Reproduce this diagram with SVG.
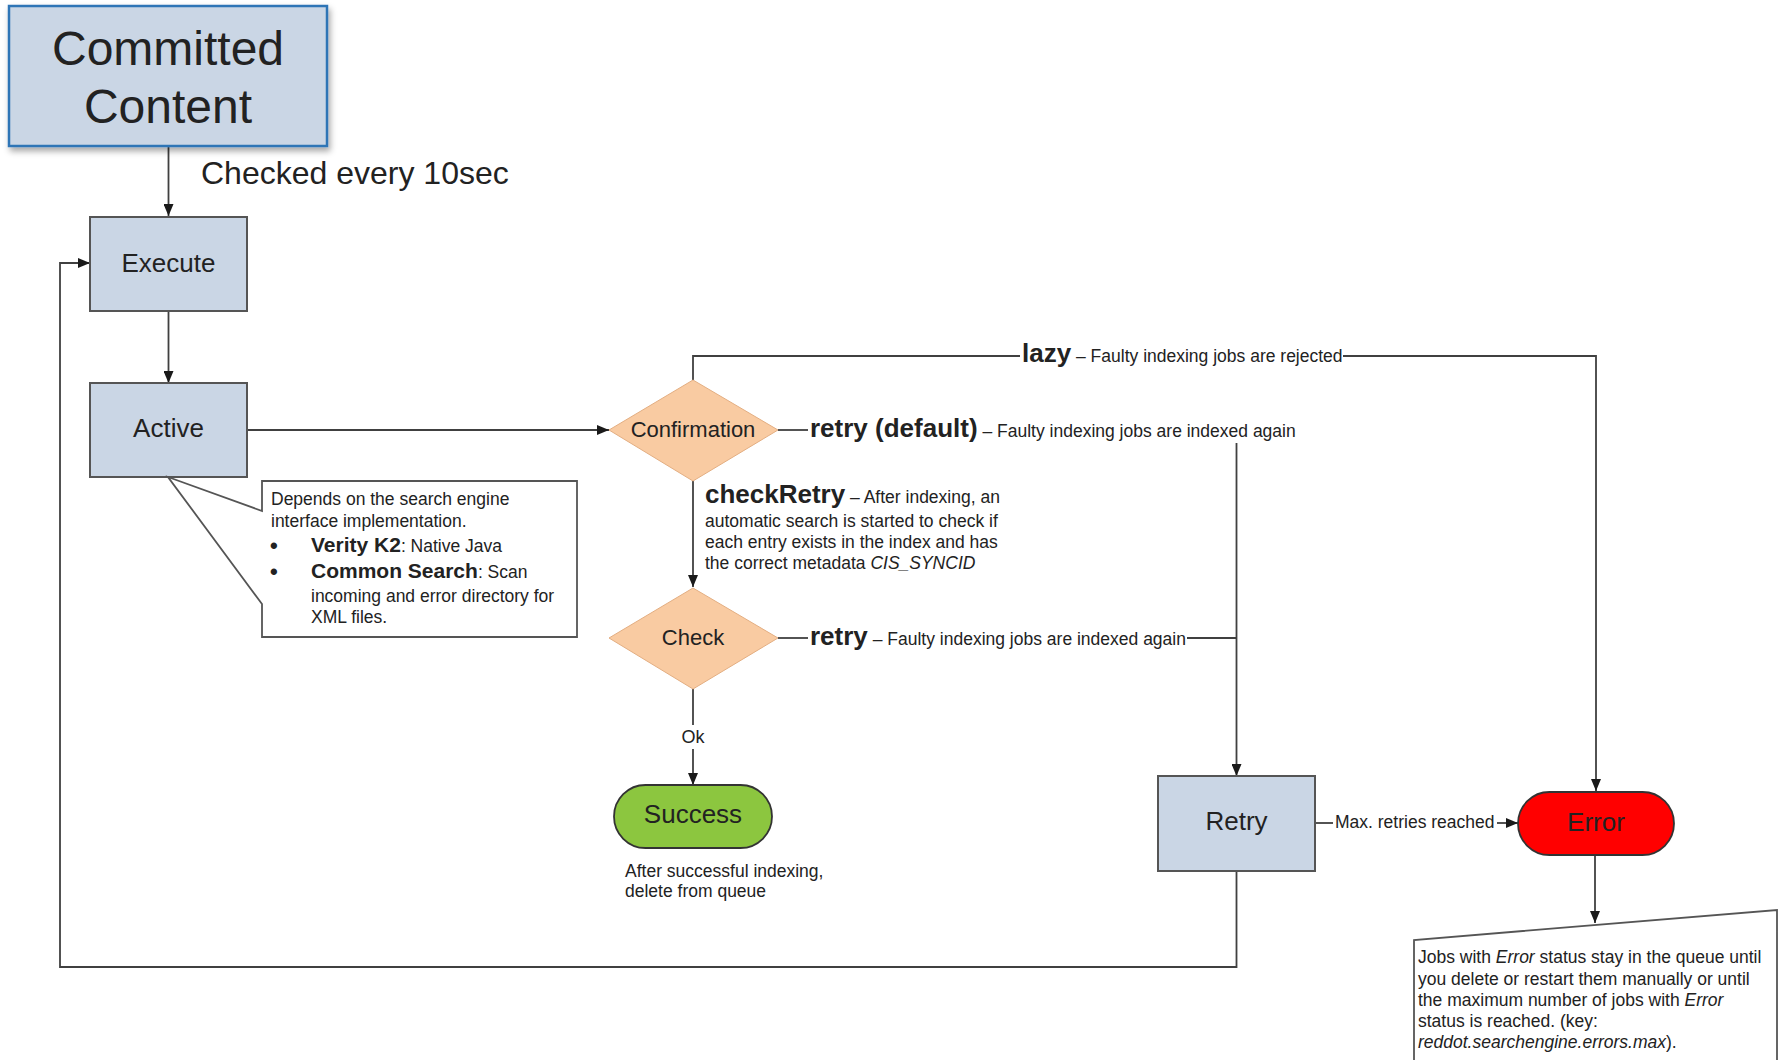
<svg xmlns="http://www.w3.org/2000/svg" width="1785" height="1060" viewBox="0 0 1785 1060">
<defs>
<marker id="ah" markerUnits="userSpaceOnUse" markerWidth="12" markerHeight="10" refX="12" refY="5" orient="auto">
<path d="M0,0 L12,5 L0,10 z" fill="#1a1a1a"/>
</marker>
<filter id="sh" x="-10%" y="-10%" width="125%" height="130%">
<feDropShadow dx="2" dy="4" stdDeviation="3" flood-color="#000" flood-opacity="0.35"/>
</filter>
<style>
.t{font-family:"Liberation Sans",Arial,sans-serif;fill:#222}
.box{fill:#cad6e5;stroke:#555;stroke-width:2}
.dia{fill:#f9cba2;stroke:#e3ae82;stroke-width:1}
.ln{fill:none;stroke:#404040;stroke-width:1.8}
.ar{fill:none;stroke:#404040;stroke-width:1.8;marker-end:url(#ah)}
.note{fill:#fff;stroke:#555;stroke-width:1.8}
.s{font-size:17.5px}
.b{font-weight:bold;font-size:26px}
.n{font-size:26px}
.bul{font-size:22px;font-weight:bold}
</style>
</defs>
<rect width="1785" height="1060" fill="#fff"/>

<g id="connectors">
<path class="ar" d="M168.5,146 V216"/>
<path class="ar" d="M168.5,311 V383"/>
<path class="ar" d="M248,430 H609"/>
<path class="ar" d="M693,481 V587"/>
<path class="ln" d="M693,689 V725"/>
<path class="ar" d="M693,749 V785"/>
<path class="ln" d="M693,380 V356 H1020"/>
<path class="ar" d="M1343,356 H1596 V791"/>
<path class="ln" d="M778,430 H808"/>
<path class="ar" d="M1236.5,443 V776"/>
<path class="ln" d="M778,638 H808"/>
<path class="ln" d="M1187,638 H1236.5"/>
<path class="ln" d="M1315,823 H1333"/>
<path class="ar" d="M1497,823 H1518"/>
<path class="ar" d="M1595,855 V923"/>
<path class="ar" d="M1236.5,871 V967 H60 V263 H90"/>
</g>

<g id="committed">
<rect x="9" y="6" width="318" height="140" fill="#cad6e5" stroke="#2e75b6" stroke-width="2.5" filter="url(#sh)"/>
<text class="t" x="168" y="65" font-size="48" text-anchor="middle" fill="#111">Committed</text>
<text class="t" x="168" y="123" font-size="48" text-anchor="middle" fill="#111">Content</text>
</g>
<text class="t" x="201" y="184" font-size="32" fill="#111">Checked every 10sec</text>

<g id="execute">
<rect class="box" x="90" y="217" width="157" height="94"/>
<text class="t n" x="168.5" y="272" text-anchor="middle">Execute</text>
</g>

<g id="active">
<rect class="box" x="90" y="383" width="157" height="94"/>
<text class="t n" x="168.5" y="437" text-anchor="middle">Active</text>
</g>

<g id="active-note">
<path class="note" d="M262,481 H577 V637 H262 V604 L168,477 L262,511 Z"/>
<text class="t s" x="271" y="505">Depends on the search engine</text>
<text class="t s" x="271" y="527">interface implementation.</text>
<text class="t bul" x="270" y="553">•</text>
<text class="t s" x="311" y="552"><tspan font-weight="bold" font-size="21">Verity K2</tspan>: Native Java</text>
<text class="t bul" x="270" y="579">•</text>
<text class="t s" x="311" y="578"><tspan font-weight="bold" font-size="21">Common Search</tspan>: Scan</text>
<text class="t s" x="311" y="602">incoming and error directory for</text>
<text class="t s" x="311" y="623">XML files.</text>
</g>

<g id="confirmation">
<polygon class="dia" points="693,380 778,430 693,481 609,430"/>
<text class="t" x="693" y="437" font-size="22" text-anchor="middle">Confirmation</text>
</g>

<g id="lazy-label">
<text class="t" x="1022" y="362"><tspan class="b">lazy</tspan><tspan class="s"> – Faulty indexing jobs are rejected</tspan></text>
</g>
<g id="retry-default-label">
<text class="t" x="810" y="437"><tspan class="b">retry (default)</tspan><tspan class="s"> – Faulty indexing jobs are indexed again</tspan></text>
</g>
<g id="checkretry-label">
<text class="t" x="705" y="503"><tspan class="b">checkRetry</tspan><tspan class="s"> – After indexing, an</tspan></text>
<text class="t s" x="705" y="527">automatic search is started to check if</text>
<text class="t s" x="705" y="548">each entry exists in the index and has</text>
<text class="t s" x="705" y="569">the correct metadata <tspan font-style="italic">CIS_SYNCID</tspan></text>
</g>

<g id="check">
<polygon class="dia" points="693,588 778,638 693,689 609,638"/>
<text class="t" x="693" y="645" font-size="22" text-anchor="middle">Check</text>
</g>
<g id="retry-label">
<text class="t" x="810" y="645"><tspan class="b">retry</tspan><tspan class="s"> – Faulty indexing jobs are indexed again</tspan></text>
</g>
<text class="t" x="693" y="743" font-size="18" text-anchor="middle">Ok</text>

<g id="success">
<rect x="614" y="785" width="158" height="63" rx="31.5" fill="#8cc63f" stroke="#333" stroke-width="1.8"/>
<text class="t n" x="693" y="823" text-anchor="middle" fill="#111">Success</text>
<text class="t s" x="625" y="877">After successful indexing,</text>
<text class="t s" x="625" y="897">delete from queue</text>
</g>

<g id="retry">
<rect class="box" x="1158" y="776" width="157" height="95"/>
<text class="t n" x="1236.5" y="830" text-anchor="middle">Retry</text>
</g>
<text class="t s" x="1335" y="828">Max. retries reached</text>

<g id="error">
<rect x="1518" y="792" width="156" height="63" rx="31.5" fill="#ff0000" stroke="#333" stroke-width="1.8"/>
<text class="t n" x="1596" y="831" text-anchor="middle" fill="#111">Error</text>
</g>

<g id="error-note">
<path class="note" d="M1414,1070 V940 L1777,910 V1070"/>
<text class="t s" x="1418" y="963">Jobs with <tspan font-style="italic">Error</tspan> status stay in the queue until</text>
<text class="t s" x="1418" y="985">you delete or restart them manually or until</text>
<text class="t s" x="1418" y="1006">the maximum number of jobs with <tspan font-style="italic">Error</tspan></text>
<text class="t s" x="1418" y="1027">status is reached. (key:</text>
<text class="t s" x="1418" y="1048"><tspan font-style="italic">reddot.searchengine.errors.max</tspan>).</text>
</g>
</svg>
